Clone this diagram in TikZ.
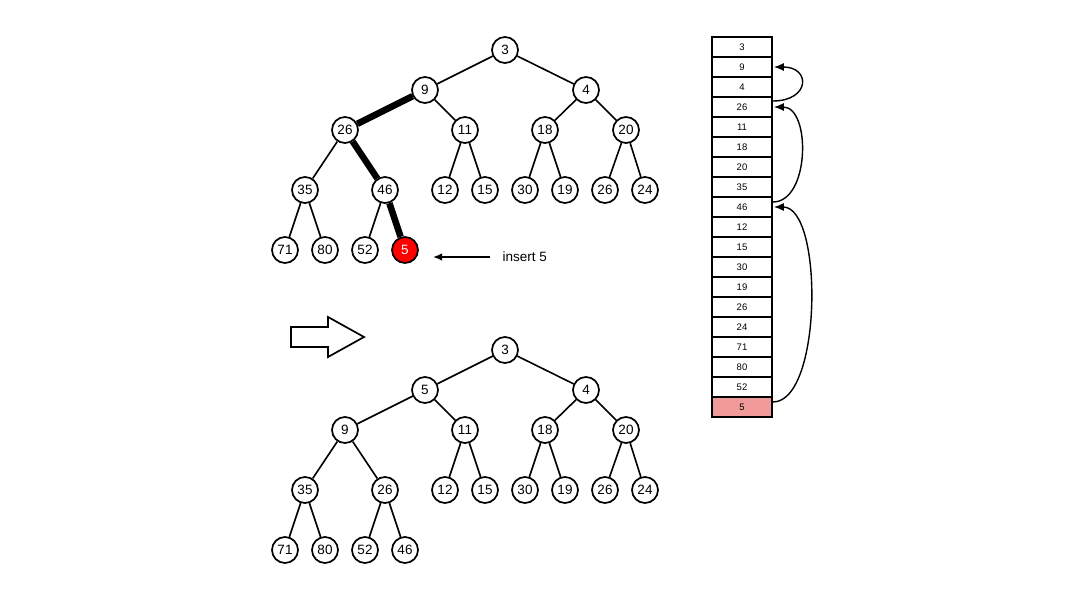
\documentclass[tikz,border=0pt]{standalone}
\usepackage{fontspec}
\setmainfont{Liberation Sans}
\usetikzlibrary{arrows.meta,shapes.geometric}
\definecolor{cellpink}{HTML}{F09A9A}
\definecolor{hotred}{HTML}{FF0000}
\begin{document}
\begin{tikzpicture}[x=1pt,y=-1pt,
  hn/.style={circle,draw,line width=1.7pt,minimum size=26pt,inner sep=0pt,fill=white,font=\fontsize{13.5}{14}\selectfont},
  redn/.style={hn,fill=hotred,text=white},
  ed/.style={line width=1.6pt},
  thick edge/.style={line width=6.5pt},
  cell/.style={rectangle,draw,line width=1.7pt,minimum width=60pt,minimum height=20pt,inner sep=0pt,fill=white,font=\fontsize{9.5}{10}\selectfont},
  hop/.style={line width=1.4pt,-{Latex[length=10pt,width=8pt]}}]
\useasboundingbox (0,0) rectangle (1080,596);
% ---------- top tree ----------
\node[hn] (a1) at (505,50) {3};
\node[hn] (a2) at (425,90) {9};
\node[hn] (a3) at (586,90) {4};
\node[hn] (a4) at (345,130) {26};
\node[hn] (a5) at (465,130) {11};
\node[hn] (a6) at (545,130) {18};
\node[hn] (a7) at (626,130) {20};
\node[hn] (a8) at (305,190) {35};
\node[hn] (a9) at (385,190) {46};
\node[hn] (a10) at (445,190) {12};
\node[hn] (a11) at (485,190) {15};
\node[hn] (a12) at (525,190) {30};
\node[hn] (a13) at (565,190) {19};
\node[hn] (a14) at (605,190) {26};
\node[hn] (a15) at (645,190) {24};
\node[hn] (a16) at (285,250) {71};
\node[hn] (a17) at (325,250) {80};
\node[hn] (a18) at (365,250) {52};
\node[redn] (a19) at (405,250) {5};
\draw[ed] (a1)--(a2) (a1)--(a3) (a2)--(a5) (a3)--(a6) (a3)--(a7)
  (a4)--(a8) (a5)--(a10) (a5)--(a11) (a6)--(a12) (a6)--(a13)
  (a7)--(a14) (a7)--(a15) (a8)--(a16) (a8)--(a17) (a9)--(a18);
\draw[thick edge] (a2)--(a4) (a4)--(a9) (a9)--(a19);
% insert label
\node[font=\fontsize{13.5}{14}\selectfont,anchor=west] (ins) at (499,257) {insert 5};
\coordinate (instip) at (433,257);
\draw[line width=1.6pt,-{Latex[length=9pt,width=7.5pt]}] ([xshift=-9pt]ins.west) -- (instip);
% ---------- big arrow ----------
\draw[line width=1.7pt,fill=white] (291,327) -- (328,327) -- (328,317) -- (364,337) -- (328,357) -- (328,347) -- (291,347) -- cycle;
% ---------- bottom tree ----------
\node[hn] (b1) at (505,350) {3};
\node[hn] (b2) at (425,390) {5};
\node[hn] (b3) at (586,390) {4};
\node[hn] (b4) at (345,430) {9};
\node[hn] (b5) at (465,430) {11};
\node[hn] (b6) at (545,430) {18};
\node[hn] (b7) at (626,430) {20};
\node[hn] (b8) at (305,490) {35};
\node[hn] (b9) at (385,490) {26};
\node[hn] (b10) at (445,490) {12};
\node[hn] (b11) at (485,490) {15};
\node[hn] (b12) at (525,490) {30};
\node[hn] (b13) at (565,490) {19};
\node[hn] (b14) at (605,490) {26};
\node[hn] (b15) at (645,490) {24};
\node[hn] (b16) at (285,550) {71};
\node[hn] (b17) at (325,550) {80};
\node[hn] (b18) at (365,550) {52};
\node[hn] (b19) at (405,550) {46};
\draw[ed] (b1)--(b2) (b1)--(b3) (b2)--(b4) (b2)--(b5) (b3)--(b6) (b3)--(b7)
  (b4)--(b8) (b4)--(b9) (b5)--(b10) (b5)--(b11) (b6)--(b12) (b6)--(b13)
  (b7)--(b14) (b7)--(b15) (b8)--(b16) (b8)--(b17) (b9)--(b18) (b9)--(b19);
% ---------- array ----------
\foreach \v [count=\i from 0] in {3,9,4,26,11,18,20,35,46,12,15,30,19,26,24,71,80,52} {
  \node[cell] (c\i) at (742,47+20*\i) {\v};
}
\node[cell,fill=cellpink] (c18) at (742,407) {5};
\draw[hop] ([yshift=6pt]c3.east) to[out=0,in=0,looseness=2.8] ([xshift=1pt]c1.east);
\draw[hop] ([yshift=5pt]c8.east) to[out=0,in=0,looseness=1.0] ([xshift=1pt]c3.east);
\draw[hop] ([yshift=5pt]c18.east) to[out=0,in=0,looseness=0.65] ([xshift=1pt]c8.east);
\end{tikzpicture}
\end{document}
